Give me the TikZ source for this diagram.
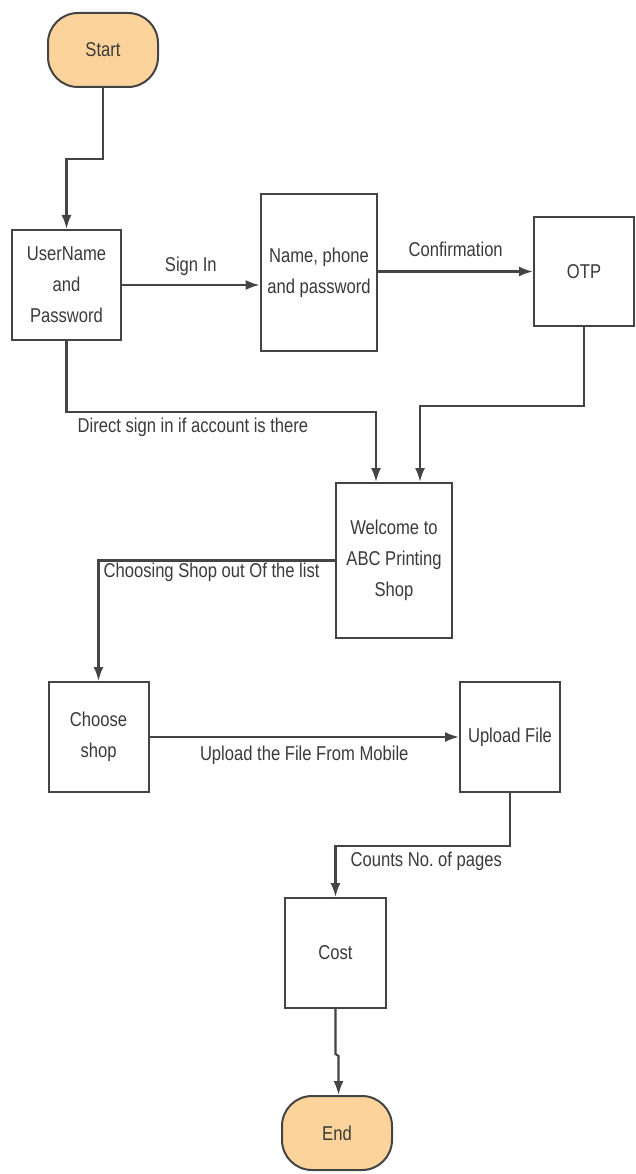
\documentclass[tikz,border=0pt]{standalone}
\usepackage{fontspec}
\setmainfont{Liberation Sans}[FakeStretch=0.83]
\usepackage{xcolor}
\usetikzlibrary{arrows.meta}

\definecolor{termfill}{RGB}{251,211,155}
\definecolor{edgegray}{RGB}{68,68,68}
\definecolor{textgray}{RGB}{58,58,58}

\begin{document}
\begin{tikzpicture}[x=1pt, y=-1pt]

	% --- STYLES ---
	\tikzstyle{terminal} = [rectangle, rounded corners=30pt, minimum width=110pt, minimum height=74pt, align=center, draw=edgegray, line width=2pt, fill=termfill, text=textgray]
	\tikzstyle{process} = [rectangle, minimum width=100pt, minimum height=110pt, align=center, draw=edgegray, line width=2pt, fill=white, text=textgray]
	\tikzstyle{arrow} = [draw=edgegray, line width=2.2pt, -{Latex[length=14pt, width=10pt]}]
	\tikzstyle{edgelabel} = [text=textgray, inner sep=2pt]

	\useasboundingbox (0,0) rectangle (636,1174);
	\fontsize{20}{31}\selectfont

	% --- NODES ---

	% 1. Start
	\node (start) [terminal] at (103,50) {Start};

	% 2. Login
	\node (user) [process, minimum width=109pt] at (66.5,285) {UserName\\and\\Password};

	% 3. Sign up details
	\node (signup) [process, minimum width=114pt, minimum height=157pt] at (319,272.5) {Name, phone\\and password};

	% 4. OTP
	\node (otp) [process, minimum height=109pt] at (584,271.5) {OTP};

	% 5. Welcome
	\node (welcome) [process, minimum width=116pt, minimum height=155pt] at (394,560.5) {Welcome to\\ABC Printing\\Shop};

	% 6. Shop and file
	\node (choose) [process] at (98.5,737) {Choose\\shop};
	\node (upload) [process] at (510,737) {Upload File};

	% 7. Cost
	\node (cost) [process, minimum width=101pt] at (335.5,953) {Cost};

	% 8. End
	\node (finish) [terminal] at (337,1133) {End};

	% --- ARROWS ---
	\draw [arrow] (start.south) -- ++(0,71) -| (user.north);

	% Sign in path
	\draw [arrow] (user.east) -- node[edgelabel, above=6pt] {Sign In} (user.east -| signup.west);
	\draw [arrow] (signup.east |- otp.west) -- node[edgelabel, above=12pt] {Confirmation} (otp.west);
	\draw [arrow] (otp.south) -- ++(0,79) -| ([xshift=26pt]welcome.north);

	% Direct path
	\draw [arrow] (user.south) -- ++(0,71) -| node[edgelabel, pos=0, anchor=north west, xshift=8pt, yshift=-3pt] {Direct sign in if account is there} ([xshift=-18pt]welcome.north);

	% Shop selection
	\draw [arrow] (welcome.west) -| node[edgelabel, pos=0.5, anchor=north west, inner sep=1pt, xshift=3pt] {Choosing Shop out Of the list} (choose.north);
	\draw [arrow] (choose.east) -- node[edgelabel, below=6pt] {Upload the File From Mobile} (upload.west);

	% Pages and cost
	\draw [arrow] (upload.south) -- ++(0,53) -| node[edgelabel, pos=0.5, anchor=north west, xshift=12pt, yshift=-3pt] {Counts No.\ of pages} (cost.north);

	% Final
	\draw [arrow] (cost.south) -- ++(0,45) -- ++(3,2) coordinate (kink) -- (kink |- finish.north);

\end{tikzpicture}
\end{document}
